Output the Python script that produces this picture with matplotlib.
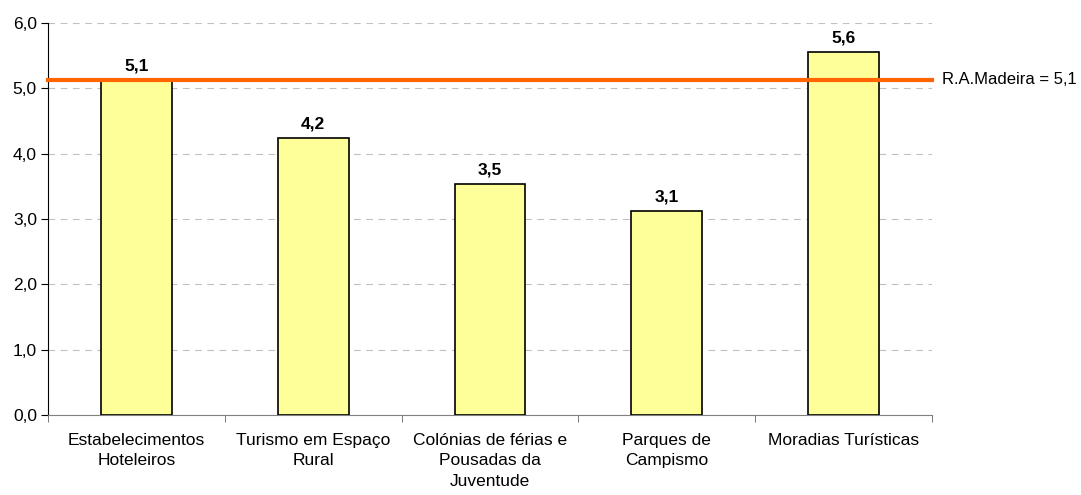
import numpy as np
import matplotlib.pyplot as plt
from matplotlib.ticker import FixedLocator

plt.rcParams['font.family'] = ['Liberation Sans', 'DejaVu Sans']

# Dados
categorias = ['Estabelecimentos\nHoteleiros', 'Turismo em Espaço\nRural',
              'Colónias de férias e\nPousadas da\nJuventude', 'Parques de\nCampismo',
              'Moradias Turísticas']
valores = [5.13, 4.24, 3.54, 3.12, 5.56]
rotulos = ['5,1', '4,2', '3,5', '3,1', '5,6']
media_regiao = 5.13
rotulo_media = 'R.A.Madeira = 5,1'

fig = plt.figure(figsize=(10.81, 4.95), dpi=100)
ax = fig.add_axes([0.0444, 0.1616, 0.8178, 0.7919])

x = np.arange(len(categorias))
ax.bar(x, valores, width=0.4, color='#FFFF99', edgecolor='black', linewidth=1.2, zorder=3)
for xi, v, r in zip(x, valores, rotulos):
    ax.text(xi, v + 0.1, r, ha='center', va='bottom', fontsize=12.5, fontweight='bold')

ax.axhline(media_regiao, color='#FF6600', linewidth=3, zorder=4, clip_on=False)
ax.text(1.011, media_regiao, rotulo_media, transform=ax.get_yaxis_transform(),
        ha='left', va='center', fontsize=12)

ax.set_xlim(-0.5, len(categorias) - 0.5)
ax.set_ylim(0, 6)
ax.set_yticks(np.arange(0, 6.1, 1))
ax.set_yticklabels([('%.1f' % t).replace('.', ',') for t in np.arange(0, 6.1, 1)], fontsize=12.5)
ax.set_xticks(x)
ax.set_xticklabels(categorias, fontsize=12.5, linespacing=1.45)
ax.tick_params(axis='x', which='major', length=0, pad=13)
ax.xaxis.set_minor_locator(FixedLocator(np.arange(-0.5, len(categorias), 1)))
ax.tick_params(axis='x', which='minor', length=5, direction='out', color='#606060')
ax.tick_params(axis='y', length=5, direction='out', pad=3)

ax.grid(axis='y', linestyle=(0, (6, 5)), color='#C0C0C0', linewidth=0.8, zorder=0)
ax.spines['top'].set_visible(False)
ax.spines['right'].set_visible(False)
ax.spines['bottom'].set_color('#808080')

fig.savefig('out.png', dpi=100)
